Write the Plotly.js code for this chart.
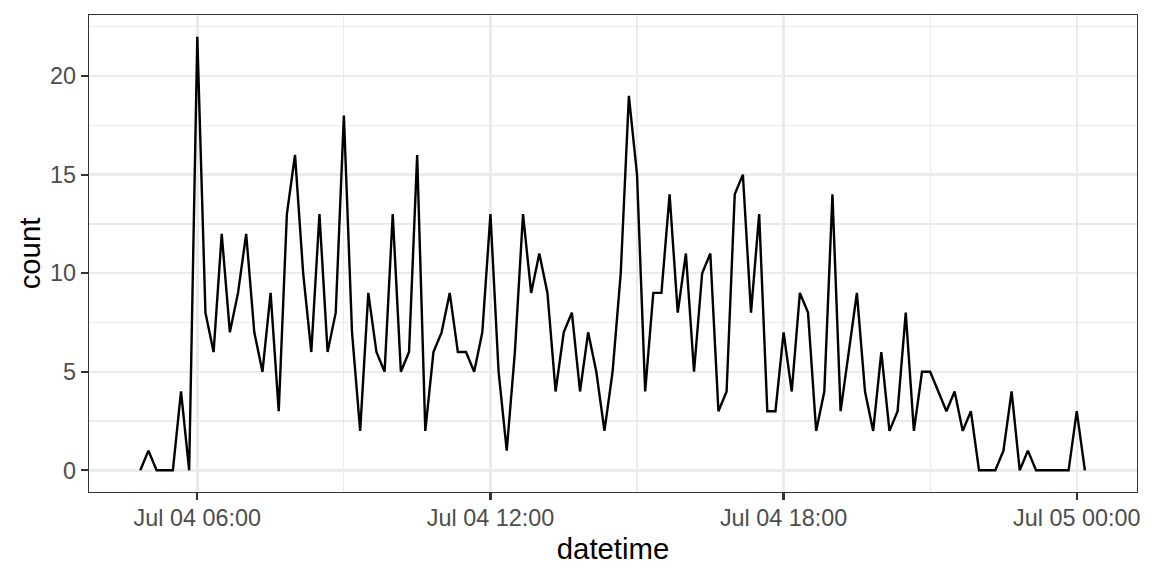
<!DOCTYPE html>
<html>
<head>
<meta charset="utf-8">
<script src="https://cdn.plot.ly/plotly-3.0.1.min.js"></script>
<style>
html,body{margin:0;padding:0;background:#fff;}
#chart{width:1152px;height:576px;}
</style>
</head>
<body>
<div id="chart"></div>
<script>
const datetimes = [
  "2024-07-04 04:50",
  "2024-07-04 05:00","2024-07-04 05:10","2024-07-04 05:20","2024-07-04 05:30","2024-07-04 05:40","2024-07-04 05:50",
  "2024-07-04 06:00","2024-07-04 06:10","2024-07-04 06:20","2024-07-04 06:30","2024-07-04 06:40","2024-07-04 06:50",
  "2024-07-04 07:00","2024-07-04 07:10","2024-07-04 07:20","2024-07-04 07:30","2024-07-04 07:40","2024-07-04 07:50",
  "2024-07-04 08:00","2024-07-04 08:10","2024-07-04 08:20","2024-07-04 08:30","2024-07-04 08:40","2024-07-04 08:50",
  "2024-07-04 09:00","2024-07-04 09:10","2024-07-04 09:20","2024-07-04 09:30","2024-07-04 09:40","2024-07-04 09:50",
  "2024-07-04 10:00","2024-07-04 10:10","2024-07-04 10:20","2024-07-04 10:30","2024-07-04 10:40","2024-07-04 10:50",
  "2024-07-04 11:00","2024-07-04 11:10","2024-07-04 11:20","2024-07-04 11:30","2024-07-04 11:40","2024-07-04 11:50",
  "2024-07-04 12:00","2024-07-04 12:10","2024-07-04 12:20","2024-07-04 12:30","2024-07-04 12:40","2024-07-04 12:50",
  "2024-07-04 13:00","2024-07-04 13:10","2024-07-04 13:20","2024-07-04 13:30","2024-07-04 13:40","2024-07-04 13:50",
  "2024-07-04 14:00","2024-07-04 14:10","2024-07-04 14:20","2024-07-04 14:30","2024-07-04 14:40","2024-07-04 14:50",
  "2024-07-04 15:00","2024-07-04 15:10","2024-07-04 15:20","2024-07-04 15:30","2024-07-04 15:40","2024-07-04 15:50",
  "2024-07-04 16:00","2024-07-04 16:10","2024-07-04 16:20","2024-07-04 16:30","2024-07-04 16:40","2024-07-04 16:50",
  "2024-07-04 17:00","2024-07-04 17:10","2024-07-04 17:20","2024-07-04 17:30","2024-07-04 17:40","2024-07-04 17:50",
  "2024-07-04 18:00","2024-07-04 18:10","2024-07-04 18:20","2024-07-04 18:30","2024-07-04 18:40","2024-07-04 18:50",
  "2024-07-04 19:00","2024-07-04 19:10","2024-07-04 19:20","2024-07-04 19:30","2024-07-04 19:40","2024-07-04 19:50",
  "2024-07-04 20:00","2024-07-04 20:10","2024-07-04 20:20","2024-07-04 20:30","2024-07-04 20:40","2024-07-04 20:50",
  "2024-07-04 21:00","2024-07-04 21:10","2024-07-04 21:20","2024-07-04 21:30","2024-07-04 21:40","2024-07-04 21:50",
  "2024-07-04 22:00","2024-07-04 22:10","2024-07-04 22:20","2024-07-04 22:30","2024-07-04 22:40","2024-07-04 22:50",
  "2024-07-04 23:00","2024-07-04 23:10","2024-07-04 23:20","2024-07-04 23:30","2024-07-04 23:40","2024-07-04 23:50",
  "2024-07-05 00:00","2024-07-05 00:10"
];

const counts = [
  0,1,0,0,0,4,0,22,
  8,6,12,7,9,12,7,5,9,3,13,16,10,6,13,6,8,18,
  7,2,9,6,5,13,5,6,16,2,6,7,9,6,6,5,7,13,5,1,6,13,9,11,9,
  4,7,8,4,7,5,2,5,10,19,15,4,9,9,14,8,11,5,10,11,3,4,14,15,
  8,13,3,3,7,4,9,8,2,4,14,3,6,9,4,2,6,2,3,8,2,5,5,4,3,
  4,2,3,0,0,0,1,4,0,1,0,0,0,0,0,3,0
];

const xRange = ["2024-07-04 03:47", "2024-07-05 01:14"];
const yRange = [-1.1, 23.1];
const xTickFormat = "%b %d %H:%M";
const xTitle = "datetime";
const yTitle = "count";

const trace = {
  x: datetimes,
  y: counts,
  type: "scatter",
  mode: "lines",
  line: {color: "#000000", width: 2.4},
  hoverinfo: "x+y"
};

const tickFont = {family: "Liberation Sans, Arial, sans-serif", size: 23.4, color: "#4D4D4D"};
const titleFont = {family: "Liberation Sans, Arial, sans-serif", size: 29.3, color: "#000000"};

const layout = {
  width: 1152,
  height: 576,
  margin: {l: 89, r: 15, t: 15, b: 84},
  paper_bgcolor: "#FFFFFF",
  plot_bgcolor: "#FFFFFF",
  showlegend: false,
  xaxis: {
    type: "date",
    range: xRange,
    tick0: "2024-07-04 00:00",
    dtick: 6 * 3600000,
    tickformat: xTickFormat,
    showgrid: true,
    gridcolor: "#EBEBEB",
    gridwidth: 2.4,
    minor: {dtick: 3 * 3600000, tick0: "2024-07-04 00:00", showgrid: true, gridcolor: "#EBEBEB", gridwidth: 1.2},
    zeroline: false,
    showline: true,
    mirror: true,
    linecolor: "#333333",
    linewidth: 1.4,
    ticks: "outside",
    ticklen: 7,
    tickwidth: 2.2,
    tickcolor: "#333333",
    tickfont: tickFont,
    ticklabelstandoff: -2,
    title: {text: xTitle, font: titleFont, standoff: 8}
  },
  yaxis: {
    range: yRange,
    tick0: 0,
    dtick: 5,
    showgrid: true,
    gridcolor: "#EBEBEB",
    gridwidth: 2.4,
    minor: {dtick: 2.5, tick0: 0, showgrid: true, gridcolor: "#EBEBEB", gridwidth: 1.2},
    zeroline: false,
    showline: true,
    mirror: true,
    linecolor: "#333333",
    linewidth: 1.4,
    ticks: "outside",
    ticklen: 7,
    tickwidth: 2.2,
    tickcolor: "#333333",
    tickfont: tickFont,
    title: {text: yTitle, font: titleFont, standoff: 0}
  }
};

Plotly.newPlot("chart", [trace], layout, {displayModeBar: false, staticPlot: true});
</script>
</body>
</html>
